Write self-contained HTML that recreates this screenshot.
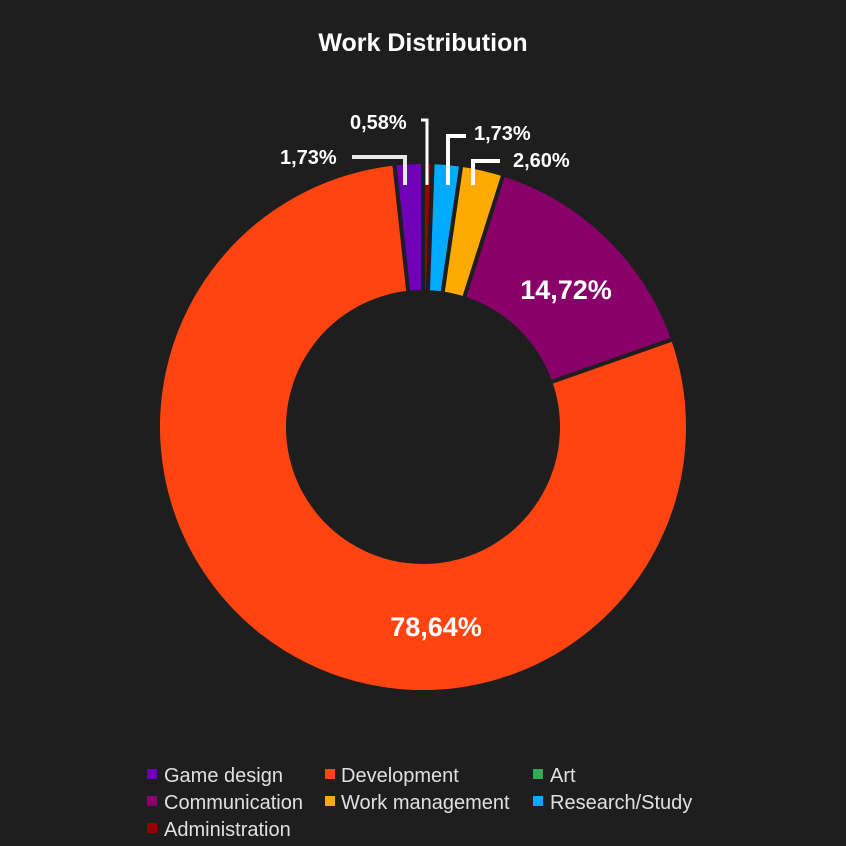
<!DOCTYPE html>
<html><head><meta charset="utf-8"><style>
html,body{margin:0;padding:0;background:#1e1e1e;}
svg{display:block}
text{font-family:"Liberation Sans",sans-serif;}
</style></head><body>
<svg id="s" width="846" height="846" viewBox="0 0 846 846" xmlns="http://www.w3.org/2000/svg">
<rect width="846" height="846" fill="#1e1e1e"/>
<text x="423" y="51" text-anchor="middle" font-size="25" font-weight="bold" fill="#fff">Work Distribution</text>
<g id="pie"></g>
<g stroke="#fff" stroke-width="3" fill="none">
<polyline points="352,157 405,157 405,185" stroke-width="4" stroke="#e8e8e8"/>
<polyline points="421,120 427,120 427,185"/>
<polyline points="466,136 448,136 448,185" stroke-width="4"/>
<polyline points="500,161 473,161 473,185" stroke-width="4"/>
</g>
<g font-weight="bold" fill="#fff" font-size="20">
<text x="280" y="164">1,73%</text>
<text x="350" y="129">0,58%</text>
<text x="474" y="140">1,73%</text>
<text x="513" y="167">2,60%</text>
<text x="566" y="299" font-size="27" text-anchor="middle">14,72%</text>
<text x="436" y="636" font-size="27" text-anchor="middle">78,64%</text>
</g>
<g font-size="20" fill="#e0e0e0">
<rect x="147" y="769" width="10" height="10" fill="#7000b8"/><text x="164" y="782">Game design</text>
<rect x="325" y="769" width="10" height="10" fill="#ff4411"/><text x="341" y="782">Development</text>
<rect x="533" y="769" width="10" height="10" fill="#33aa55"/><text x="550" y="782">Art</text>
<rect x="147" y="796" width="10" height="10" fill="#8a006a"/><text x="164" y="809">Communication</text>
<rect x="325" y="796" width="10" height="10" fill="#ffaa00"/><text x="341" y="809">Work management</text>
<rect x="533" y="796" width="10" height="10" fill="#00aaff"/><text x="550" y="809">Research/Study</text>
<rect x="147" y="823" width="10" height="10" fill="#990000"/><text x="164" y="836">Administration</text>
</g>
</svg>
<script>
var cx=423,cy=427,R=265,r=135;
var data=[[1.73,"#7000b8"],[0.58,"#990000"],[1.73,"#00aaff"],[2.60,"#ffaa00"],[14.72,"#8a006a"],[78.64,"#ff4411"]];
var a=-1.73*3.6,g=document.getElementById("pie"),h="";
function p(rad,ang){var t=ang*Math.PI/180;return (cx+rad*Math.sin(t)).toFixed(2)+","+(cy-rad*Math.cos(t)).toFixed(2);}
data.forEach(function(d){var b=a+d[0]*3.6,l=(b-a)>180?1:0;
h+='<path d="M'+p(R,a)+' A'+R+','+R+' 0 '+l+' 1 '+p(R,b)+' L'+p(r,b)+' A'+r+','+r+' 0 '+l+' 0 '+p(r,a)+' Z" fill="'+d[1]+'" stroke="#1e1e1e" stroke-width="4"/>';a=b;});
g.innerHTML=h;
</script>
</body></html>
